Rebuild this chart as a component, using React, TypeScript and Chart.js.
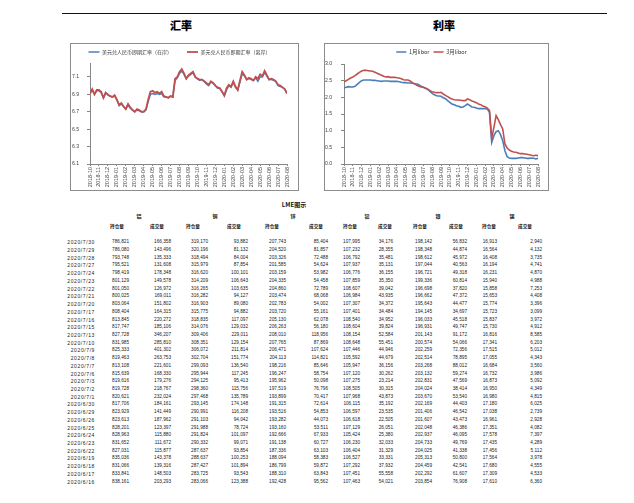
import React, { useEffect, useRef } from 'react';
import { Chart, registerables } from 'chart.js';

Chart.register(...registerables);

// ---------------- data ----------------
const monthLabels = [
  '2018-10', '2018-11', '2018-12', '2019-01', '2019-02', '2019-03', '2019-04', '2019-05',
  '2019-06', '2019-07', '2019-08', '2019-09', '2019-10', '2019-11', '2019-12', '2020-01',
  '2020-02', '2020-03', '2020-04', '2020-05', '2020-06', '2020-07', '2020-08',
];
const pointsPerMonth = 4;

const fxOnshore = [
  6.91, 6.95, 6.90, 6.94,
  6.94, 6.92, 6.86, 6.92,
  6.89, 6.88, 6.87, 6.88,
  6.84, 6.77, 6.79, 6.76,
  6.73, 6.78, 6.74, 6.72,
  6.70, 6.72, 6.71, 6.70,
  6.70, 6.72, 6.82, 6.90,
  6.91, 6.90, 6.91, 6.90,
  6.91, 6.87, 6.87, 6.86,
  6.88, 6.87, 7.06, 7.09,
  7.14, 7.17, 7.13, 7.08,
  7.11, 7.13, 7.15, 7.10,
  7.08, 7.06, 7.07, 7.05,
  7.02, 7.00, 7.04, 7.03,
  7.00, 6.97, 6.97, 6.93,
  6.88, 6.95, 7.00, 6.98,
  7.04, 6.98, 6.95, 7.04,
  7.14, 7.11, 7.07, 7.08,
  7.07, 7.06, 7.09, 7.05,
  7.10, 7.10, 7.15, 7.11,
  7.07, 7.07, 7.06, 7.05,
  7.00, 6.99, 6.98, 6.96,
  6.91,
];
const fxOffshore = [
  6.91, 6.96, 6.90, 6.95,
  6.95, 6.93, 6.86, 6.92,
  6.90, 6.88, 6.87, 6.89,
  6.84, 6.78, 6.80, 6.76,
  6.73, 6.79, 6.75, 6.72,
  6.70, 6.73, 6.72, 6.70,
  6.70, 6.73, 6.84, 6.93,
  6.94, 6.92, 6.93, 6.91,
  6.93, 6.88, 6.87, 6.86,
  6.88, 6.87, 7.08, 7.10,
  7.16, 7.19, 7.14, 7.08,
  7.12, 7.14, 7.16, 7.10,
  7.08, 7.07, 7.07, 7.05,
  7.03, 7.01, 7.05, 7.03,
  7.00, 6.98, 6.97, 6.93,
  6.89, 6.97, 7.01, 6.99,
  7.05, 6.99, 6.95, 7.06,
  7.16, 7.12, 7.07, 7.09,
  7.08, 7.06, 7.10, 7.08,
  7.13, 7.11, 7.17, 7.12,
  7.07, 7.08, 7.07, 7.05,
  7.01, 7.00, 6.98, 6.96,
  6.91,
];
const fxTicks = [6.1, 6.3, 6.5, 6.7, 6.9, 7.1];

const libor1m = [
  2.28, 2.30, 2.32, 2.31,
  2.31, 2.33, 2.39, 2.45,
  2.50, 2.52, 2.52, 2.52,
  2.52, 2.51, 2.51, 2.50,
  2.49, 2.48, 2.49, 2.49,
  2.49, 2.48, 2.48, 2.48,
  2.48, 2.47, 2.45, 2.44,
  2.44, 2.43, 2.43, 2.42,
  2.41, 2.40, 2.38, 2.33,
  2.30, 2.27, 2.24, 2.18,
  2.12, 2.08, 2.05, 2.04,
  2.03, 1.99, 1.96, 1.90,
  1.85, 1.80, 1.78, 1.75,
  1.73, 1.70, 1.71, 1.75,
  1.80, 1.76, 1.71, 1.70,
  1.68, 1.66, 1.66, 1.66,
  1.66, 1.65, 1.55, 0.65,
  0.85, 0.97, 1.00, 0.88,
  0.70, 0.40, 0.22, 0.18,
  0.17, 0.17, 0.17, 0.18,
  0.19, 0.19, 0.18, 0.17,
  0.17, 0.18, 0.17, 0.15,
  0.17,
];
const libor3m = [
  2.47, 2.50, 2.54, 2.58,
  2.61, 2.65, 2.70, 2.75,
  2.79, 2.81, 2.81, 2.80,
  2.79, 2.78, 2.75, 2.72,
  2.69, 2.66, 2.63, 2.61,
  2.62, 2.60, 2.60, 2.60,
  2.59, 2.58, 2.56, 2.53,
  2.52, 2.52, 2.49, 2.44,
  2.41, 2.36, 2.33, 2.31,
  2.30, 2.27, 2.24, 2.20,
  2.17, 2.15, 2.14, 2.14,
  2.15, 2.10, 2.06, 2.02,
  1.98, 1.95, 1.93, 1.92,
  1.92, 1.91, 1.90, 1.90,
  1.95, 1.93, 1.89, 1.87,
  1.84, 1.80, 1.78, 1.74,
  1.72, 1.68, 1.60, 0.77,
  1.10, 1.45, 1.33, 1.18,
  1.05, 0.60, 0.48, 0.42,
  0.38, 0.36, 0.35, 0.33,
  0.31, 0.31, 0.30, 0.29,
  0.28, 0.26, 0.25, 0.26,
  0.25,
];
const rateTicks = [0, 0.5, 1, 1.5, 2, 2.5, 3];

const tableDates = [
  '2020/7/30', '2020/7/29', '2020/7/28', '2020/7/27', '2020/7/24', '2020/7/23', '2020/7/22', '2020/7/21',
  '2020/7/20', '2020/7/17', '2020/7/16', '2020/7/15', '2020/7/13', '2020/7/10', '2020/7/9', '2020/7/8',
  '2020/7/7', '2020/7/6', '2020/7/3', '2020/7/2', '2020/7/1', '2020/6/30', '2020/6/29', '2020/6/26',
  '2020/6/25', '2020/6/24', '2020/6/23', '2020/6/22', '2020/6/19', '2020/6/18', '2020/6/17', '2020/6/16',
];
const metals = ['铝', '铜', '锌', '铅', '镍', '锡'];
const columnKinds = ['持仓量', '成交量'];

const alOI = [786821, 786080, 793748, 795521, 798419, 801129, 801050, 800025, 803064, 808404, 813845, 817747, 827728, 831985, 825333, 819463, 813108, 815639, 819616, 819728, 820621, 817706, 823929, 823613, 828201, 828963, 831652, 827031, 835036, 831066, 833841, 838161];
const alVol = [166358, 143496, 135333, 131608, 178348, 149578, 126972, 169011, 151802, 164315, 220272, 185106, 346207, 285810, 401302, 263753, 221601, 168330, 179276, 218767, 232024, 184161, 141449, 187962, 123397, 115880, 111672, 115877, 143378, 139316, 148503, 203293];
const cuOI = [319170, 320196, 318494, 315979, 316620, 314209, 316265, 316282, 316903, 315775, 318835, 314076, 309406, 308351, 306072, 302704, 299093, 295944, 294125, 298360, 297468, 293145, 290991, 291103, 291988, 291824, 290332, 287637, 288637, 287427, 283725, 283066];
const cuVol = [93882, 81132, 84004, 87854, 100101, 106643, 103635, 94127, 89080, 94882, 117097, 129032, 229011, 129154, 211814, 151774, 136540, 117245, 95413, 115756, 135789, 174148, 116208, 94042, 78724, 101097, 99071, 93854, 100253, 101894, 93543, 123388];
const znOI = [207743, 204520, 203326, 201585, 203159, 204335, 204860, 203474, 202783, 203720, 205130, 206263, 208010, 207765, 206471, 204113, 198216, 196247, 195962, 197519, 193899, 191315, 193516, 193282, 193160, 192666, 191138, 187336, 188094, 186799, 188310, 192428];
const znVol = [85404, 81857, 72488, 54624, 53982, 54458, 72789, 68068, 54002, 55161, 62078, 56180, 118956, 87869, 107624, 114821, 85646, 58754, 50098, 76796, 70417, 72614, 54853, 44073, 53511, 67933, 60727, 63103, 58383, 59872, 63843, 95562];
const pbOI = [107995, 107232, 106792, 107937, 106776, 107859, 108607, 106984, 107307, 107401, 108540, 108604, 108154, 108648, 107446, 105592, 105947, 107120, 107275, 108505, 107968, 106115, 106597, 106618, 107129, 105424, 106230, 106404, 106527, 107292, 107451, 107463];
const pbVol = [34176, 28355, 35481, 35131, 36155, 35350, 39042, 43935, 34372, 34484, 34952, 39824, 52584, 55451, 44946, 44679, 36156, 30262, 23214, 30315, 43873, 35192, 23535, 22505, 26051, 25380, 32033, 31329, 33331, 37932, 55558, 54021];
const niOI = [198142, 198348, 198612, 197044, 196721, 199336, 196698, 196662, 195643, 194145, 196033, 196931, 201143, 200574, 202259, 202514, 203268, 203132, 202831, 204024, 203670, 202169, 201406, 201607, 202048, 202937, 204733, 204025, 205313, 204459, 202292, 203854];
const niVol = [56832, 44874, 45972, 40563, 49318, 60814, 37820, 47372, 44477, 34697, 45518, 49747, 91172, 54066, 72356, 78895, 88012, 59274, 47569, 38414, 53540, 44403, 46542, 43473, 46386, 46095, 49769, 41338, 50800, 42541, 61607, 76908];
const snOI = [16913, 16564, 16408, 16194, 16231, 15940, 15858, 15653, 15774, 15723, 15837, 15730, 16816, 17341, 17515, 17055, 16684, 16732, 16873, 16950, 16980, 17180, 17038, 16961, 17351, 17578, 17435, 17456, 17564, 17680, 17309, 17610];
const snVol = [2940, 4132, 3735, 4741, 4870, 4988, 7253, 4408, 3396, 3099, 3972, 4912, 8585, 6203, 5012, 4343, 3560, 3986, 5092, 4349, 4815, 6025, 2739, 2928, 4082, 7397, 4289, 5112, 3978, 4555, 4533, 6360];

const tableColumns = [alOI, alVol, cuOI, cuVol, znOI, znVol, pbOI, pbVol, niOI, niVol, snOI, snVol];

// ---------------- layout / style ----------------
const BLUE = '#4A7EBB';
const RED = '#C0504D';
const AXIS = '#868686';
const TICK_FONT = '"Liberation Sans", Arial, sans-serif';
const CJK_FONT = '"Noto Sans CJK SC", "Noto Sans", sans-serif';

const ROW0 = 242.3;
const ROW_STEP = 7.72;
const DATE_RIGHT = 95;
const COL_RIGHTS = [129, 171, 208, 248, 286, 328, 360, 393, 432, 467, 497, 542];
const HEADER_CENTERS = [117, 157, 193, 234, 272, 316, 350, 385, 420, 456, 489, 525];
const METAL_CENTERS = [139, 215, 293, 367, 438, 512];

type ChartProps = {
  width: number;
  height: number;
  series: { label: string; values: number[]; color: string; lineWidth: number; order: number }[];
  yMin: number;
  yMax: number;
  yTicks: number[];
  yWidth: number;
  xHeight: number;
  pad: { top: number; left: number; right: number; bottom: number };
  legendFont: number;
  legendPad: number;
  legendMaxHeight: number;
  legendBox: number;
};

function LineChart(p: ChartProps) {
  const ref = useRef<HTMLCanvasElement>(null);
  useEffect(() => {
    const chart = new Chart(ref.current as HTMLCanvasElement, {
      type: 'line',
      data: {
        datasets: p.series.map((s) => ({
          label: s.label,
          data: s.values.map((v, i) => ({ x: i / pointsPerMonth, y: v })),
          borderColor: s.color,
          backgroundColor: s.color,
          borderWidth: s.lineWidth,
          pointRadius: 0,
          tension: 0,
          order: s.order,
        })),
      },
      options: {
        responsive: false,
        animation: false,
        events: [],
        layout: { padding: p.pad },
        plugins: {
          tooltip: { enabled: false },
          legend: {
            position: 'top',
            maxHeight: p.legendMaxHeight,
            labels: {
              usePointStyle: true,
              pointStyle: 'line',
              pointStyleWidth: p.legendBox,
              padding: p.legendPad,
              color: '#333',
              font: { size: p.legendFont, family: CJK_FONT },
              sort: (a: any, b: any) => a.datasetIndex - b.datasetIndex,
            },
          },
        },
        scales: {
          x: {
            type: 'linear',
            min: 0,
            max: monthLabels.length - 1,
            afterBuildTicks: (s: any) => {
              s.ticks = monthLabels.map((_, i) => ({ value: i }));
            },
            afterFit: (s: any) => {
              s.height = p.xHeight;
            },
            ticks: {
              autoSkip: false,
              minRotation: 90,
              maxRotation: 90,
              padding: 1,
              color: '#444',
              font: { size: 5.5, family: TICK_FONT },
              callback: (v: any) => monthLabels[Math.round(Number(v))],
            },
            grid: { drawOnChartArea: false, drawTicks: true, tickLength: 2, color: AXIS },
            border: { display: true, color: AXIS, width: 1 },
          },
          y: {
            min: p.yMin,
            max: p.yMax,
            afterBuildTicks: (s: any) => {
              s.ticks = p.yTicks.map((v) => ({ value: v }));
            },
            afterFit: (s: any) => {
              s.width = p.yWidth;
            },
            ticks: {
              crossAlign: 'far',
              color: '#444',
              font: { size: 5.2, family: TICK_FONT },
              callback: (v: any) => Number(v).toFixed(1),
            },
            grid: { drawOnChartArea: false, drawTicks: true, tickLength: 3, color: AXIS },
            border: { display: true, color: AXIS, width: 1 },
          },
        },
      } as any,
    });
    return () => chart.destroy();
  }, []);
  return <canvas ref={ref} width={p.width} height={p.height} style={{ display: 'block', width: p.width, height: p.height }} />;
}

function Txt(props: { x: number; y: number; align: 'center' | 'right'; style?: React.CSSProperties; children: React.ReactNode }) {
  const w = 80;
  const left = props.align === 'center' ? props.x - w / 2 : props.x - w;
  return (
    <div
      style={{
        position: 'absolute',
        left,
        top: props.y - 5,
        width: w,
        height: 10,
        lineHeight: '10px',
        textAlign: props.align,
        whiteSpace: 'nowrap',
        ...props.style,
      }}
    >
      {props.children}
    </div>
  );
}

const fmt = (n: number) => n.toLocaleString('en-US');

export default function App() {
  const numStyle: React.CSSProperties = { fontFamily: TICK_FONT, fontSize: 4.7, color: '#222' };
  const dateStyle: React.CSSProperties = { fontFamily: TICK_FONT, fontSize: 5, letterSpacing: 0.6, color: '#222' };
  const headStyle: React.CSSProperties = { fontFamily: CJK_FONT, fontSize: 4.6, fontWeight: 700, color: '#111' };
  return (
    <div style={{ position: 'fixed', left: 0, top: 0, width: 634, height: 503, background: '#fff', overflow: 'hidden' }}>
      <div style={{ position: 'absolute', left: 62, top: 13, width: 545, height: 1, background: '#111' }} />
      <Txt x={181} y={24.5} align="center" style={{ fontFamily: CJK_FONT, fontSize: 11, fontWeight: 900, color: '#000', lineHeight: '10px' }}>汇率</Txt>
      <Txt x={444} y={24.5} align="center" style={{ fontFamily: CJK_FONT, fontSize: 11, fontWeight: 900, color: '#000', lineHeight: '10px' }}>利率</Txt>

      <div style={{ position: 'absolute', left: 70, top: 43, width: 229, height: 148, border: '1px solid #8c8c8c', boxSizing: 'border-box' }}>
        <LineChart
          width={227}
          height={146}
          series={[
            { label: '美元兑人民币即期汇率（在岸）', values: fxOnshore, color: BLUE, lineWidth: 1.5, order: 1 },
            { label: '美元兑人民币即期汇率（离岸）', values: fxOffshore, color: RED, lineWidth: 1.8, order: 0 },
          ]}
          yMin={6.1}
          yMax={7.26}
          yTicks={fxTicks}
          yWidth={18}
          xHeight={26}
          pad={{ top: -9.5, left: 1, right: 11, bottom: 0 }}
          legendFont={5}
          legendPad={15}
          legendMaxHeight={28.5}
          legendBox={11}
        />
      </div>

      <div style={{ position: 'absolute', left: 324, top: 43, width: 225, height: 148, border: '1px solid #8c8c8c', boxSizing: 'border-box' }}>
        <LineChart
          width={223}
          height={146}
          series={[
            { label: '1月libor', values: libor1m, color: BLUE, lineWidth: 1.6, order: 1 },
            { label: '3月libor', values: libor3m, color: RED, lineWidth: 1.6, order: 0 },
          ]}
          yMin={0}
          yMax={3}
          yTicks={rateTicks}
          yWidth={19}
          xHeight={26}
          pad={{ top: 1.25, left: 0, right: 10, bottom: 0 }}
          legendFont={5.5}
          legendPad={4}
          legendMaxHeight={18.75}
          legendBox={10}
        />
      </div>

      <Txt x={294} y={205} align="center" style={{ fontFamily: CJK_FONT, fontSize: 6, fontWeight: 700, color: '#111' }}>LME图示</Txt>
      {metals.map((m, i) => (
        <Txt key={'m' + i} x={METAL_CENTERS[i]} y={216} align="center" style={{ ...headStyle, fontSize: 5 }}>{m}</Txt>
      ))}
      {HEADER_CENTERS.map((c, i) => (
        <Txt key={'h' + i} x={c} y={226} align="center" style={headStyle}>{columnKinds[i % 2]}</Txt>
      ))}
      {tableDates.map((d, r) => (
        <React.Fragment key={'r' + r}>
          <Txt x={DATE_RIGHT} y={ROW0 + r * ROW_STEP} align="right" style={dateStyle}>{d}</Txt>
          {tableColumns.map((col, c) => (
            <Txt key={'c' + c} x={COL_RIGHTS[c]} y={ROW0 + r * ROW_STEP} align="right" style={numStyle}>{fmt(col[r])}</Txt>
          ))}
        </React.Fragment>
      ))}
    </div>
  );
}
